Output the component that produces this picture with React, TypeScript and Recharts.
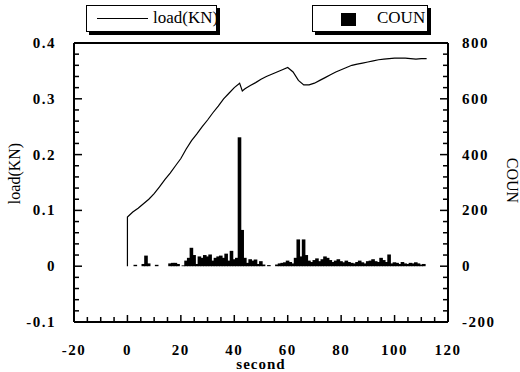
import { ComposedChart, Bar, Line, XAxis, YAxis } from 'recharts';

// load curve (seconds, kN)
const LOAD_TIME = [
  0, 0, 2, 4, 6, 8, 10, 12, 14, 16, 18, 20, 22, 24, 26, 28, 30, 32, 34, 36, 38, 40, 42, 43, 44, 46, 48, 50,
  52, 54, 56, 58, 60, 62, 64, 66, 68, 70, 72, 74, 76, 78, 80, 82, 84, 86, 88, 90, 92, 94, 96, 98, 100, 102,
  104, 106, 108, 110, 112,
];
const LOAD_VALUES = [
  0, 0.088, 0.097, 0.104, 0.112, 0.12, 0.13, 0.142, 0.155, 0.167, 0.18, 0.193, 0.21, 0.225, 0.237, 0.25, 0.262,
  0.275, 0.287, 0.3, 0.31, 0.32, 0.328, 0.314, 0.318, 0.324, 0.329, 0.335, 0.34, 0.344, 0.348, 0.352, 0.356,
  0.348, 0.333, 0.325, 0.325, 0.328, 0.333, 0.338, 0.343, 0.348, 0.352, 0.356, 0.36, 0.362, 0.364, 0.366,
  0.368, 0.37, 0.371, 0.372, 0.373, 0.373, 0.373, 0.372, 0.371, 0.372, 0.372,
];

// counts per second, second = index
const COUN_VALUES = [
  0, 0, 0, 5, 0, 0, 8, 38, 10, 0, 0, 5, 0, 0, 0, 0, 10, 12, 12, 8, 0, 3, 20, 30, 66, 40, 8, 35, 30, 40, 35, 42,
  20, 30, 35, 38, 30, 45, 20, 55, 25, 30, 462, 130, 30, 12, 25, 20, 24, 8, 18, 6, 0, 4, 0, 0, 6, 10, 12, 14, 20,
  15, 10, 30, 96, 35, 96, 40, 20, 15, 22, 28, 18, 25, 35, 30, 22, 15, 20, 25, 18, 14, 20, 15, 12, 10, 15, 20,
  14, 10, 18, 20, 25, 18, 15, 30, 22, 15, 42, 10, 14, 12, 8, 15, 10, 8, 12, 10, 14, 10, 6, 8, 0,
];

const X_LABELS = [-20, 0, 20, 40, 60, 80, 100, 120];
const LOAD_LABELS = [-0.1, 0, 0.1, 0.2, 0.3, 0.4];
const COUN_LABELS = [-200, 0, 200, 400, 600, 800];

const withMinor = (labels: number[], parts: number) => {
  const out: number[] = [];
  labels.forEach((v, i) => {
    out.push(v);
    if (i < labels.length - 1) {
      const step = (labels[i + 1] - v) / parts;
      for (let k = 1; k < parts; k++) out.push(v + step * k);
    }
  });
  return out;
};

const isMajor = (v: number, labels: number[]) => labels.some((l) => Math.abs(l - v) < 1e-9);

const rows = [
  ...LOAD_TIME.map((t, i) => ({ t, load: LOAD_VALUES[i] })),
  ...COUN_VALUES.map((c, i) => ({ t: i, coun: c })),
].sort((a, b) => a.t - b.t);

const FONT = '"Liberation Serif", "Times New Roman", serif';
const tickText = { fontFamily: FONT, fontWeight: 700, fontSize: 15, letterSpacing: 1.5, fill: '#000' };
const frame = { stroke: '#000', strokeWidth: 2 };

const LeftTick = ({ x, y, payload }: any) => {
  const major = isMajor(payload.value, LOAD_LABELS);
  return (
    <g>
      <line x1={x} x2={x + (major ? 8 : 5)} y1={y} y2={y} stroke="#000" strokeWidth={1.5} />
      {major && (
        <text x={x - 18} y={y} textAnchor="end" dominantBaseline="central" style={tickText}>
          {String(Math.round(payload.value * 10) / 10)}
        </text>
      )}
    </g>
  );
};

const RightTick = ({ x, y, payload }: any) => {
  const major = isMajor(payload.value, COUN_LABELS);
  return (
    <g>
      <line x1={x} x2={x - (major ? 8 : 5)} y1={y} y2={y} stroke="#000" strokeWidth={1.5} />
      {major && (
        <text x={x + 14} y={y} textAnchor="start" dominantBaseline="central" style={tickText}>
          {String(payload.value)}
        </text>
      )}
    </g>
  );
};

const BottomTick = ({ x, y, payload }: any) => {
  const major = isMajor(payload.value, X_LABELS);
  return (
    <g>
      <line x1={x} x2={x} y1={y} y2={y - (major ? 7 : 5)} stroke="#000" strokeWidth={1.5} />
      {major && (
        <text x={x} y={y + 28} textAnchor="middle" dominantBaseline="central" style={tickText}>
          {String(payload.value)}
        </text>
      )}
    </g>
  );
};

// histogram block: widen each bar a little so neighbours join into steps
const Block = ({ x, y, width, height }: any) => {
  if (!height || height <= 0) return null;
  return <rect x={x - 0.6} y={y} width={width + 1.2} height={height} fill="#000" />;
};

export default function App() {
  return (
    <div style={{ position: 'absolute', left: 0, top: 0, width: 520, height: 372, background: '#fff' }}>
      <ComposedChart width={520} height={372} data={rows} margin={{ top: 42, right: 12, left: 14, bottom: 20 }}>
        <XAxis
          xAxisId="top"
          orientation="top"
          type="number"
          domain={[-20, 120]}
          height={1}
          tick={false}
          tickLine={false}
          axisLine={frame}
        />
        <XAxis
          dataKey="t"
          type="number"
          domain={[-20, 120]}
          ticks={withMinor(X_LABELS, 4)}
          interval={0}
          height={30}
          axisLine={frame}
          tickLine={false}
          tickSize={0}
          tickMargin={0}
          tick={<BottomTick />}
          label={({ viewBox }: any) => (
            <text
              x={viewBox.x + viewBox.width / 2}
              y={viewBox.y + 42}
              textAnchor="middle"
              dominantBaseline="central"
              style={{ fontFamily: FONT, fontWeight: 700, fontSize: 15, letterSpacing: 1, fill: '#000' }}
            >
              second
            </text>
          )}
        />
        <YAxis
          yAxisId="load"
          type="number"
          domain={[-0.1, 0.4]}
          ticks={withMinor(LOAD_LABELS, 5)}
          interval={0}
          width={60}
          axisLine={frame}
          tickLine={false}
          tickSize={0}
          tickMargin={0}
          tick={<LeftTick />}
          label={({ viewBox }: any) => {
            const cx = viewBox.x;
            const cy = viewBox.y + viewBox.height / 2 - 9;
            return (
              <text
                x={cx}
                y={cy}
                transform={`rotate(-90 ${cx} ${cy})`}
                textAnchor="middle"
                dominantBaseline="central"
                style={{ fontFamily: FONT, fontSize: 16, fill: '#000' }}
              >
                load(KN)
              </text>
            );
          }}
        />
        <YAxis
          yAxisId="coun"
          orientation="right"
          type="number"
          domain={[-200, 800]}
          ticks={withMinor(COUN_LABELS, 5)}
          interval={0}
          width={60}
          axisLine={frame}
          tickLine={false}
          tickSize={0}
          tickMargin={0}
          tick={<RightTick />}
          label={({ viewBox }: any) => {
            const cx = viewBox.x + 64;
            const cy = viewBox.y + viewBox.height / 2 - 2;
            return (
              <text
                x={cx}
                y={cy}
                transform={`rotate(90 ${cx} ${cy})`}
                textAnchor="middle"
                dominantBaseline="central"
                style={{ fontFamily: FONT, fontSize: 16, fill: '#000' }}
              >
                COUN
              </text>
            );
          }}
        />
        <Bar yAxisId="coun" dataKey="coun" fill="#000" barSize={4} shape={<Block />} isAnimationActive={false} />
        <Line
          yAxisId="load"
          dataKey="load"
          type="linear"
          stroke="#000"
          strokeWidth={1.2}
          dot={false}
          connectNulls
          isAnimationActive={false}
        />
      </ComposedChart>
      <div
        style={{
          position: 'absolute',
          left: 86,
          top: 5,
          width: 131,
          height: 27,
          border: '1.5px solid #000',
          boxShadow: '3px 3px 0 #000',
          boxSizing: 'border-box',
          background: '#fff',
        }}
      >
        <div style={{ position: 'absolute', left: 10, top: 12, width: 51, borderTop: '1px solid #000' }} />
        <div style={{ position: 'absolute', left: 66, top: 2, fontFamily: FONT, fontSize: 17, lineHeight: '20px' }}>
          load(KN)
        </div>
      </div>
      <div
        style={{
          position: 'absolute',
          left: 312,
          top: 5,
          width: 116,
          height: 27,
          border: '1.5px solid #000',
          boxShadow: '3px 3px 0 #000',
          boxSizing: 'border-box',
          background: '#fff',
        }}
      >
        <div style={{ position: 'absolute', left: 28, top: 7, width: 15, height: 13, background: '#000' }} />
        <div style={{ position: 'absolute', left: 64, top: 2, fontFamily: FONT, fontSize: 17, lineHeight: '20px' }}>
          COUN
        </div>
      </div>
    </div>
  );
}
